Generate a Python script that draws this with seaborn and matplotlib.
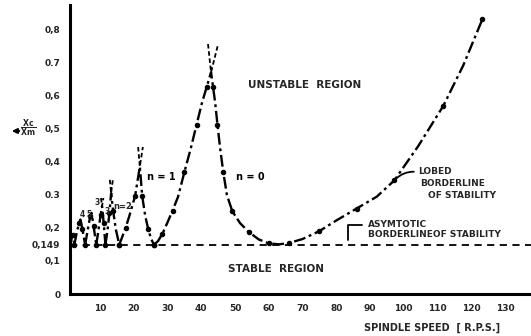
import matplotlib
matplotlib.use("Agg")
import matplotlib.pyplot as plt
import seaborn as sns

# lobed borderline of stability, one list pair per lobe
lobe0_x = [26.0, 27.2, 28.5, 29.9, 31.5, 33.1, 35.0, 37.0, 38.6, 40.2, 41.6, 42.9,
           43.5, 44.1, 44.8, 45.55, 46.5, 47.6, 49.2, 51.5, 54.0, 57.0, 60.0, 63.0,
           66.0, 70.0, 75.0, 80.0, 86.0, 92.0, 97.2, 104.3, 111.7, 117.6, 123.3]
lobe0_y = [0.149, 0.160, 0.182, 0.214, 0.252, 0.293, 0.368, 0.444, 0.511, 0.577, 0.625, 0.670,
           0.625, 0.580, 0.512, 0.444, 0.370, 0.299, 0.250, 0.214, 0.188, 0.165, 0.153, 0.150,
           0.154, 0.166, 0.190, 0.222, 0.258, 0.294, 0.343, 0.447, 0.568, 0.690, 0.830]
lobe1_x = [15.7, 16.5, 17.6, 18.7, 20.4, 21.8, 22.5, 23.4, 24.3, 25.2, 26.0]
lobe1_y = [0.149, 0.170, 0.200, 0.236, 0.296, 0.385, 0.296, 0.236, 0.195, 0.165, 0.149]
lobe2_x = [11.6, 12.2, 12.8, 13.3, 13.9, 14.7, 15.7]
lobe2_y = [0.149, 0.190, 0.245, 0.305, 0.250, 0.195, 0.149]
lobe3_x = [8.9, 9.5, 10.2, 10.6, 11.1, 11.6]
lobe3_y = [0.149, 0.190, 0.240, 0.265, 0.215, 0.149]
lobe4_x = [5.6, 6.3, 7.1, 7.5, 8.1, 8.9]
lobe4_y = [0.149, 0.190, 0.235, 0.245, 0.205, 0.149]
lobe5_x = [2.4, 3.0, 3.8, 4.2, 4.8, 5.6]
lobe5_y = [0.149, 0.180, 0.215, 0.225, 0.195, 0.149]
lobe6_x = [1.2, 1.6, 2.0, 2.4]
lobe6_y = [0.149, 0.168, 0.178, 0.149]

# dashed continuations above the lobe peaks: (peak, left tip, right tip)
tips = {
    "n0": ([42.0, 42.9, 45.0], [0.755, 0.670, 0.755]),
    "n1": ([21.3, 21.8, 22.7], [0.444, 0.385, 0.444]),
    "n2": ([12.9, 13.3, 13.8], [0.345, 0.305, 0.345]),
    "n3": ([10.3, 10.6, 11.0], [0.290, 0.265, 0.290]),
}

asym_level = 0.149
asym_x = [1.2, 137.7]

x_ticks = [10, 20, 30, 40, 50, 60, 70, 80, 90, 100, 110, 120, 130]
y_ticks = [0, 0.1, 0.149, 0.2, 0.3, 0.4, 0.5, 0.6, 0.7, 0.8]
y_labels = ["0", "0,1", "0,149", "0,2", "0.3", "0,4", "0,5", "0,6", "0.7", "0,8"]

sns.set_style("white")
plt.rcParams["font.family"] = ["DejaVu Sans"]
plt.rcParams["font.weight"] = "bold"

fig = plt.figure(figsize=(5.31, 3.36), dpi=100)
ax = fig.add_axes([70 / 531, 1 - 294 / 336, 461 / 531, 289 / 336])

dashdot = (0, (5, 1.6, 1.2, 1.6))
for lx, ly in [(lobe0_x, lobe0_y), (lobe1_x, lobe1_y), (lobe2_x, lobe2_y),
               (lobe3_x, lobe3_y), (lobe4_x, lobe4_y), (lobe5_x, lobe5_y),
               (lobe6_x, lobe6_y)]:
    sns.lineplot(x=lx, y=ly, sort=False, estimator=None, ax=ax, color="black",
                 lw=1.7, linestyle=dashdot, marker="o", ms=3.2, mec="black",
                 markevery=2)

for tx, ty in tips.values():
    sns.lineplot(x=tx, y=ty, sort=False, estimator=None, ax=ax, color="black",
                 lw=1.3, linestyle=(0, (2.5, 1.5)))

sns.lineplot(x=asym_x, y=[asym_level, asym_level], ax=ax, color="black",
             lw=1.3, linestyle=(0, (4, 3)))

ax.set_xlim(1.11, 137.7)
ax.set_ylim(0, 0.873)
ax.set_xticks(x_ticks)
ax.set_yticks(y_ticks)
ax.set_yticklabels(y_labels)
ax.tick_params(length=0, labelsize=6.5, pad=7)
for lab in ax.get_xticklabels() + ax.get_yticklabels():
    lab.set_fontweight("bold")
sns.despine(ax=ax)
for s in ["left", "bottom"]:
    ax.spines[s].set_linewidth(2.2)
    ax.spines[s].set_color("black")

kw = dict(fontsize=7, fontweight="bold", color="black")
ax.text(70.7, 0.631, "UNSTABLE  REGION", ha="center", va="center", fontsize=7.5,
        fontweight="bold")
ax.text(62.1, 0.076, "STABLE  REGION", ha="center", va="center", fontsize=7.5,
        fontweight="bold")
ax.text(28.1, 0.353, "n = 1", ha="center", va="center", **kw)
ax.text(54.4, 0.353, "n = 0", ha="center", va="center", **kw)
ax.text(16.8, 0.263, "n=2", ha="center", va="center", fontsize=6, fontweight="bold")
for t, x, y in [("4", 4.7, 0.239), ("5", 6.7, 0.239), ("3", 9.1, 0.275), ("3", 12.1, 0.250)]:
    ax.text(x, y, t, ha="center", va="center", fontsize=5.5, fontweight="bold")

ax.text(104.2, 0.369, "LOBED", ha="left", va="center", fontsize=6.5, fontweight="bold")
ax.text(104.8, 0.335, "BORDERLINE", ha="left", va="center", fontsize=6.5, fontweight="bold")
ax.text(107.2, 0.299, "OF STABILITY", ha="left", va="center", fontsize=6.5, fontweight="bold")
ax.annotate("", xy=(97.2, 0.343), xytext=(103.8, 0.369),
            arrowprops=dict(arrowstyle="-", lw=1.3, color="black",
                            connectionstyle="arc3,rad=0.25"))

ax.text(89.4, 0.211, "ASYMTOTIC", ha="left", va="center", fontsize=6.5, fontweight="bold")
ax.text(89.4, 0.181, "BORDERLINEOF STABILITY", ha="left", va="center", fontsize=6.5,
        fontweight="bold")
ax.plot([87.6, 83.5, 83.5], [0.208, 0.208, 0.163], color="black", lw=1.3)

fig.text(432 / 531, 1 - 328 / 336, "SPINDLE SPEED  [ R.P.S.]", ha="center", va="center",
         fontsize=7, fontweight="bold")
fig.text(28 / 531, 1 - 128 / 336, r"$\mathbf{\frac{Xc}{Xm}}$", ha="center", va="center",
         fontsize=8)
ax.annotate("", xy=(9, 336 - 131), xytext=(22, 336 - 131), xycoords="figure pixels",
            textcoords="figure pixels",
            arrowprops=dict(arrowstyle="-|>", lw=1.5, color="black", mutation_scale=7))

fig.savefig("out.png", dpi=100)
